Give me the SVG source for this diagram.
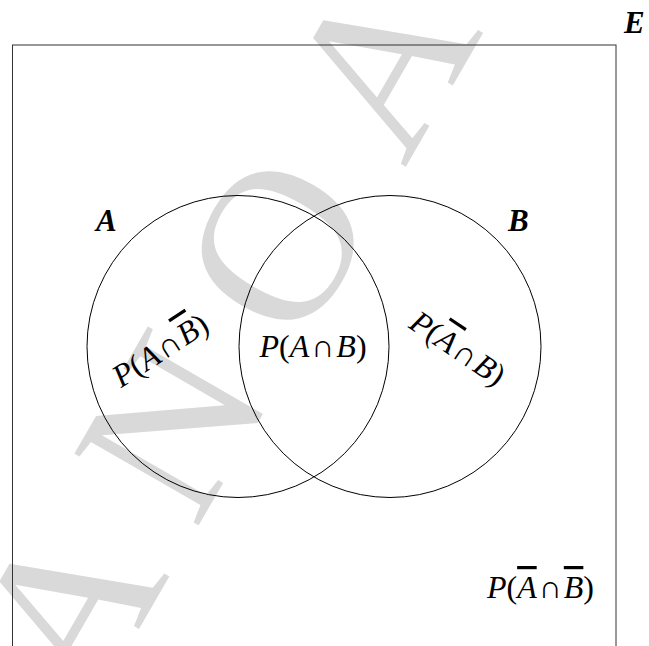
<svg xmlns="http://www.w3.org/2000/svg" width="649" height="646" viewBox="0 0 649 646">
<style>
.wm{font-family:"Liberation Serif",serif;font-size:219px;fill:#d9d9d9}
.lbl{font-family:"Liberation Serif",serif;font-size:32px;fill:#000}
.big{font-family:"Liberation Serif",serif;font-style:italic;font-weight:bold;font-size:31px;fill:#000}
.i{font-style:italic}
.ov{text-decoration:overline;text-decoration-thickness:1.5px}
.set{fill:none;stroke:#000;stroke-width:1}
</style>
<rect width="649" height="646" fill="#fff"/>
<g id="watermark">
<text class="wm" transform="translate(91,712) rotate(-60)" letter-spacing="51">ANOA</text>
</g>
<g id="universe">
<rect x="12.5" y="45" width="603.5" height="700" fill="none" stroke="#333" stroke-width="1"/>
<text class="big" x="624" y="33">E</text>
</g>
<g id="setA">
<circle class="set" cx="238" cy="346.5" r="151"/>
<text class="big" x="96" y="231">A</text>
</g>
<g id="setB">
<circle class="set" cx="390" cy="346.5" r="151"/>
<text class="big" x="508" y="231">B</text>
</g>
<g id="label-AnotB" transform="translate(166,359) rotate(-33)">
<text class="lbl" text-anchor="middle"><tspan class="i">P</tspan>(<tspan class="i">A</tspan><tspan dx="2">∩</tspan><tspan class="i ov" dx="2">B</tspan>)</text>
</g>
<g id="label-AB">
<text class="lbl" x="313" y="357" text-anchor="middle"><tspan class="i">P</tspan>(<tspan class="i">A</tspan><tspan dx="2">∩</tspan><tspan class="i" dx="2">B</tspan>)</text>
</g>
<g id="label-notAB" transform="translate(452,357) rotate(34)">
<text class="lbl" text-anchor="middle"><tspan class="i">P</tspan>(<tspan class="i ov">A</tspan><tspan dx="2">∩</tspan><tspan class="i" dx="2">B</tspan>)</text>
</g>
<g id="label-notAnotB">
<text class="lbl" x="594" y="598" text-anchor="end"><tspan class="i">P</tspan>(<tspan class="i ov">A</tspan><tspan dx="2">∩</tspan><tspan class="i ov" dx="2">B</tspan>)</text>
</g>
</svg>
